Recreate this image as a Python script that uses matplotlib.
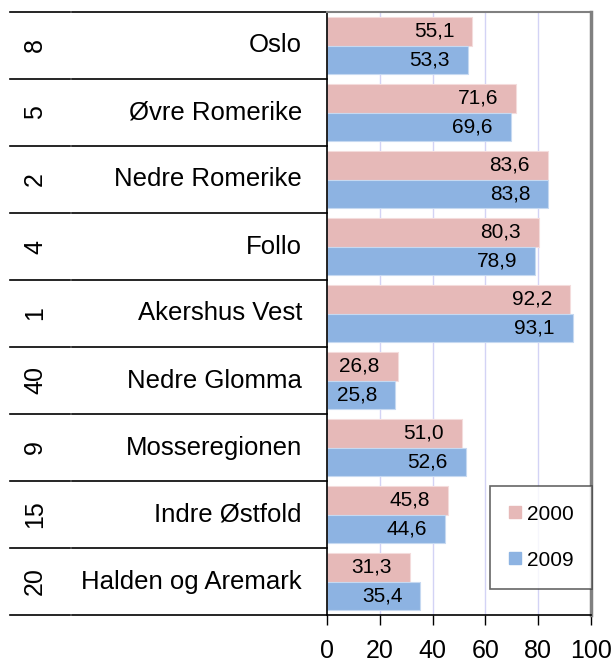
import matplotlib.pyplot as plt
from matplotlib.lines import Line2D

plt.rcParams['font.family'] = ['Liberation Sans', 'DejaVu Sans']

# Données
regions = ['Oslo', 'Øvre Romerike', 'Nedre Romerike', 'Follo', 'Akershus Vest',
           'Nedre Glomma', 'Mosseregionen', 'Indre Østfold', 'Halden og Aremark']
rangs = ['8', '5', '2', '4', '1', '40', '9', '15', '20']
valeurs_2000 = [55.1, 71.6, 83.6, 80.3, 92.2, 26.8, 51.0, 45.8, 31.3]
valeurs_2009 = [53.3, 69.6, 83.8, 78.9, 93.1, 25.8, 52.6, 44.6, 35.4]
annees = ['2000', '2009']
xticks = [0, 20, 40, 60, 80, 100]

rose = '#E6B9B8'
bleu = '#8DB3E2'

W, H = 614, 666
fig = plt.figure(figsize=(W / 100, H / 100), dpi=100)
gauche, droite, haut, bas = 327, 591, 12, 615
ax = fig.add_axes([gauche / W, (H - bas) / H, (droite - gauche) / W, (bas - haut) / H])

n = len(regions)
pos = list(range(n))
h = 0.42
ax.barh([p - h / 2 for p in pos], valeurs_2000, height=h, color=rose,
        edgecolor='#F4DCDC', linewidth=0.8, zorder=2)
ax.barh([p + h / 2 for p in pos], valeurs_2009, height=h, color=bleu,
        edgecolor='#C6D9F1', linewidth=0.8, zorder=2)

def fmt(v):
    return f"{v:.1f}".replace('.', ',')

for p, v in zip(pos, valeurs_2000):
    ax.annotate(fmt(v), (v, p - h / 2), xytext=(-13, 0), textcoords='offset points',
                ha='right', va='center', fontsize=15, zorder=3)
for p, v in zip(pos, valeurs_2009):
    ax.annotate(fmt(v), (v, p + h / 2), xytext=(-13, 0), textcoords='offset points',
                ha='right', va='center', fontsize=15, zorder=3)

ax.set_xlim(0, 100)
ax.set_ylim(n - 0.5, -0.5)
ax.set_xticks(xticks)
ax.set_xticklabels([str(t) for t in xticks], fontsize=18)
ax.tick_params(axis='x', direction='out', length=7, width=1, pad=10, color='black')
ax.set_yticks([])

# grille verticale
for t in xticks[1:-1]:
    ax.axvline(t, color='#D3D3F5', linewidth=1, zorder=1)

ax.spines['left'].set_color('black')
ax.spines['bottom'].set_color('black')
ax.spines['left'].set_linewidth(1.2)
ax.spines['bottom'].set_linewidth(1.2)
ax.spines['top'].set_color('#808080')
ax.spines['right'].set_color('#808080')
ax.spines['top'].set_linewidth(1.5)
ax.spines['right'].set_linewidth(2.5)

# étiquettes des catégories (deux niveaux)
trans = ax.get_yaxis_transform()
largeur = droite - gauche
x_nom = (302 - gauche) / largeur
x_rang = (35 - gauche) / largeur
for p, nom, r in zip(pos, regions, rangs):
    ax.text(x_nom, p, nom, transform=trans, ha='right', va='center', fontsize=18.5)
    ax.text(x_rang, p, r, transform=trans, ha='center', va='center', fontsize=18,
            rotation=90)

# lignes de séparation
x1 = (10 - gauche) / largeur
x2 = (70 - gauche) / largeur
x3 = (72 - gauche) / largeur
for k in range(n + 1):
    y = k - 0.5
    ax.plot([x1, x2], [y, y], transform=trans, color='black', lw=1.2, clip_on=False)
    ax.plot([x3, 0], [y, y], transform=trans, color='black', lw=1.2, clip_on=False)

# légende
poignees = [Line2D([], [], marker='s', linestyle='none', markersize=9,
                   markerfacecolor=c, markeredgecolor=c) for c in (rose, bleu)]
leg = ax.legend(poignees, annees, loc='center', bbox_to_anchor=(0.811, 0.129),
                fontsize=15, frameon=True, fancybox=False, handlelength=0.6,
                handletextpad=0.25, labelspacing=1.3, borderpad=0.9,
                borderaxespad=0)
leg.get_frame().set_edgecolor('#404040')
leg.get_frame().set_linewidth(1.2)

fig.savefig('out.png', dpi=100)
